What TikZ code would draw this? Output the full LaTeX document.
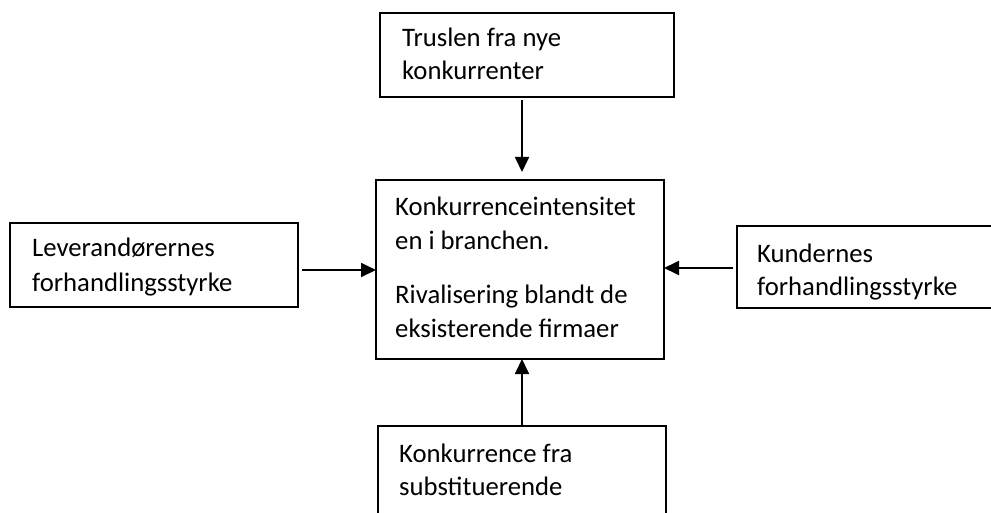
\documentclass[tikz,border=0pt]{standalone}
\usepackage{fontspec}
\setmainfont{Carlito}
\usetikzlibrary{arrows.meta}
\begin{document}
\begin{tikzpicture}[x=1pt,y=-1pt,
  box/.style={draw=black,line width=1.8pt,rectangle,anchor=north west,inner sep=0pt,outer sep=0pt},
  txt/.style={anchor=base west,inner sep=0pt,font=\fontsize{26.7}{33}\selectfont},
  arr/.style={line width=1.8pt,-{Triangle[length=15pt,width=14pt]}}]
\useasboundingbox (0,0) rectangle (991,513);
% boxes
\node[box,minimum width=294pt,minimum height=84pt] (top) at (380,13) {};
\node[box,minimum width=288pt,minimum height=179pt] (ctr) at (376,180) {};
\node[box,minimum width=288pt,minimum height=84pt] (lft) at (10,223) {};
\node[box,minimum width=300pt,minimum height=82pt] (rgt) at (737,226) {};
\node[box,minimum width=288pt,minimum height=120pt] (bot) at (378,426) {};
% texts
\node[txt] (t1) at (402,47) {Truslen fra nye};
\node[txt] (t2) at (402,80) {konkurrenter};
\node[txt] (c1) at (395,216) {Konkurrenceintensitet};
\node[txt] (c2) at (395,250) {en i branchen.};
\node[txt] (c3) at (395,303) {Rivalisering blandt de};
\node[txt] (c4) at (395,337) {eksisterende firmaer};
\node[txt] (l1) at (32,257) {Leverandørernes};
\node[txt] (l2) at (32,291) {forhandlingsstyrke};
\node[txt] (r1) at (757,263) {Kundernes};
\begin{scope}
\clip (737,226) rectangle (991,299);
\node[txt] (r2) at (757,295) {forhandlingsstyrke};
\end{scope}
\node[txt] (b1) at (399,462) {Konkurrence fra};
\node[txt] (b2) at (399,495) {substituerende};
% connectors
\coordinate (ax) at (522,0);
\draw[arr] ([yshift=-3pt]top.south -| ax) -- ([yshift=8pt]ctr.north -| ax);
\draw[arr] (bot.north -| ax) -- (ctr.south -| ax);
\coordinate (ly) at (0,270);
\coordinate (ry) at (0,268);
\draw[arr] ([xshift=4pt]lft.east |- ly) -- (ctr.west |- ly);
\draw[arr] ([xshift=-4pt]rgt.west |- ry) -- (ctr.east |- ry);
\end{tikzpicture}
\end{document}
